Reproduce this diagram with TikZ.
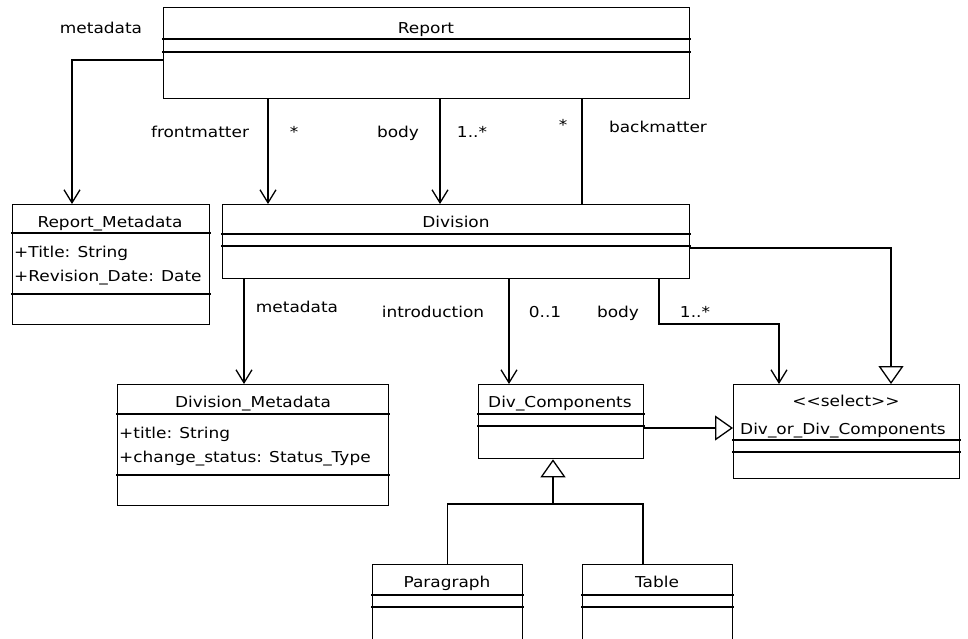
\documentclass[tikz,border=0pt]{standalone}
\usepackage{fontspec}
\setmainfont{DejaVu Sans}[FakeStretch=1.13]
\usetikzlibrary{arrows.meta,calc}

\newcommand\umlfont{\fontsize{15}{18}\selectfont}
% horizontal compartment rule inside a class box, #2 = distance below its top edge
\newcommand\compartment[2]{\draw[frame] ($(#1.north west)+(0,#2)$) -- ($(#1.north east)+(0,#2)$);}

\begin{document}
\begin{tikzpicture}[x=1pt,y=-1pt,
  frame/.style={line width=1.3pt, line cap=rect},
  classbox/.style={frame, draw, fill=white, rectangle, inner sep=0pt, anchor=north west},
  lbl/.style={anchor=base, inner sep=0pt, font=\umlfont},
  attr/.style={anchor=base west, inner sep=0pt, font=\umlfont},
  assoc/.style={line width=1.3pt, -{Straight Barb[length=13pt,width=16pt]}},
  plain/.style={line width=1.3pt},
  gen/.style={line width=1.3pt, -{Triangle[open,length=18pt,width=25pt]}}]

\useasboundingbox (0,0) rectangle (968,638);
\clip (0,0) rectangle (968,638);

% ---- classes ----
\node[classbox, minimum width=526pt, minimum height=91pt]  (rep)   at (163,7)   {};
\node[classbox, minimum width=197pt, minimum height=120pt] (rmeta) at (12,204)  {};
\node[classbox, minimum width=467pt, minimum height=74pt]  (div)   at (222,204) {};
\node[classbox, minimum width=271pt, minimum height=121pt] (dmeta) at (117,384) {};
\node[classbox, minimum width=165pt, minimum height=74pt]  (dcomp) at (478,384) {};
\node[classbox, minimum width=226pt, minimum height=94pt]  (dor)   at (733,384) {};
\node[classbox, minimum width=150pt, minimum height=90pt]  (para)  at (372,564) {};
\node[classbox, minimum width=150pt, minimum height=90pt]  (tab)   at (582,564) {};

\compartment{rep}{32}   \compartment{rep}{45}
\compartment{rmeta}{29} \compartment{rmeta}{90}
\compartment{div}{30}   \compartment{div}{42}
\compartment{dmeta}{30} \compartment{dmeta}{91}
\compartment{dcomp}{30} \compartment{dcomp}{42}
\compartment{dor}{56}   \compartment{dor}{68}
\compartment{para}{31}  \compartment{para}{43}
\compartment{tab}{31}   \compartment{tab}{43}

% ---- class names and attributes ----
\node[lbl] (rep-name)   at (426,33)  {Report};
\node[lbl] (rmeta-name) at (110,227) {Report\_Metadata};
\node[attr] (rmeta-a1)  at (14,257)  {+Title: String};
\node[attr] (rmeta-a2)  at (14,281)  {+Revision\_Date: Date};
\node[lbl] (div-name)   at (456,227) {Division};
\node[lbl] (dmeta-name) at (253,407) {Division\_Metadata};
\node[attr] (dmeta-a1)  at (119,438) {+title: String};
\node[attr] (dmeta-a2)  at (119,462) {+change\_status: Status\_Type};
\node[attr] (dcomp-name) at (488,407) {Div\_Components};
\node[lbl] (dor-stereo) at (846,406) {<{}<select>{}>};
\node[attr] (dor-name)  at (740,434) {Div\_or\_Div\_Components};
\node[lbl] (para-name)  at (447,587) {Paragraph};
\node[lbl] (tab-name)   at (657,587) {Table};

% ---- connector columns ----
\coordinate (xrm) at (72,0);
\coordinate (xfm) at (268,0);
\coordinate (xbd) at (440,0);
\coordinate (xbm) at (582,0);
\coordinate (xdm) at (244,0);
\coordinate (xin) at (509,0);
\coordinate (xdb) at (659,0);
\coordinate (bodyturn) at (779,324);
\coordinate (xgen) at (891,0);
\coordinate (xtab) at (643,0);
\coordinate (join) at (553,504);

% ---- associations ----
\draw[assoc] ($(rep.north west)+(0,53)$) -| (rmeta.north -| xrm);
\draw[assoc] (rep.south -| xfm) -- (div.north -| xfm);
\draw[assoc] (rep.south -| xbd) -- (div.north -| xbd);
\draw[plain] (rep.south -| xbm) -- (div.north -| xbm);
\draw[assoc] (div.south -| xdm) -- (dmeta.north -| xdm);
\draw[assoc] (div.south -| xin) -- (dcomp.north -| xin);
\draw[assoc] (div.south -| xdb) |- (bodyturn) -- (dor.north -| bodyturn);

% ---- generalizations ----
\draw[gen] ($(div.north east)+(0,44)$) -| (dor.north -| xgen);
\draw[gen] ($(dcomp.north east)+(0,44)$) -- ($(dor.north west)+(0,44)$);
\draw[plain] (para.north) |- (join) -| (tab.north -| xtab);
\draw[gen] (join) -- (dcomp.south -| join);

% ---- role names and multiplicities ----
\node[lbl] (l-rmeta) at (101,33)  {metadata};
\node[lbl] (l-front) at (200,137) {frontmatter};
\node[lbl] (m-front) at (294,137) {*};
\node[lbl] (l-body)  at (398,137) {body};
\node[lbl] (m-body)  at (472,137) {1..*};
\node[lbl] (m-back)  at (563,130) {*};
\node[lbl] (l-back)  at (658,132) {backmatter};
\node[lbl] (l-dmeta) at (297,312) {metadata};
\node[lbl] (l-intro) at (433,317) {introduction};
\node[lbl] (m-intro) at (545,317) {0..1};
\node[lbl] (l-dbody) at (618,317) {body};
\node[lbl] (m-dbody) at (695,317) {1..*};

\end{tikzpicture}
\end{document}
